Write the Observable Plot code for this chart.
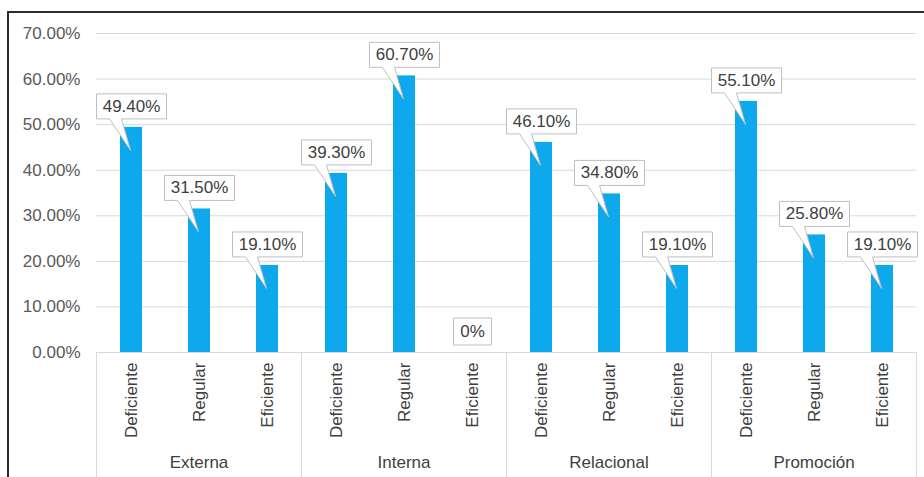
<!DOCTYPE html>
<html>
<head>
<meta charset="utf-8">
<script src="https://cdn.jsdelivr.net/npm/d3@7"></script>
<script src="https://cdn.jsdelivr.net/npm/@observablehq/plot@0.6"></script>
<style>
  html, body { margin: 0; padding: 0; background: #fff; overflow: hidden; }
  #wrap { position: relative; width: 924px; height: 477px; overflow: hidden; background: #fff; }
  #chart { position: absolute; left: 0; top: 0; }
  #border { position: absolute; left: 7px; top: 11px; width: 960px; height: 520px; border: 2px solid #2b2b2b; pointer-events: none; }
</style>
</head>
<body>
<div id="wrap">
  <div id="chart"></div>
  <div id="border"></div>
</div>
<script>
// ---- data ----
const groups = ["Externa", "Interna", "Relacional", "Promoción"];
const levels = ["Deficiente", "Regular", "Eficiente"];
const externa = [49.4, 31.5, 19.1];
const interna = [39.3, 60.7, 0];
const relacional = [46.1, 34.8, 19.1];
const promocion = [55.1, 25.8, 19.1];
const yTicks = [0, 10, 20, 30, 40, 50, 60, 70];

const seriesByGroup = [externa, interna, relacional, promocion];
const data = groups.flatMap((g, i) =>
  levels.map((l, j) => ({group: g, level: l, value: seriesByGroup[i][j]}))
);
const fmtLabel = v => v === 0 ? "0%" : v.toFixed(2) + "%";

// ---- layout ----
const W = 924, H = 477, ML = 96, MR = 8, MT = 33, MB = 125;
const font = "'Liberation Sans', Arial, sans-serif";

function callout(w, h, wedge) {
  return {
    draw(ctx) {
      const x0 = -w / 2, x1 = w / 2, y0 = -h / 2, y1 = h / 2;
      ctx.moveTo(x0, y0);
      ctx.lineTo(x1, y0);
      ctx.lineTo(x1, y1);
      if (wedge) {
        ctx.lineTo(x0 + 25, y1);
        ctx.lineTo(-1, 44);
        ctx.lineTo(x0 + 13, y1);
      }
      ctx.lineTo(x0, y1);
      ctx.closePath();
    }
  };
}

const chart = Plot.plot({
  width: W,
  height: H,
  marginLeft: ML,
  marginRight: MR,
  marginTop: MT,
  marginBottom: MB,
  style: {fontFamily: font, fontSize: "17px", color: "#595959", background: "transparent"},
  fx: {domain: groups, padding: 0},
  x: {domain: levels, paddingInner: 0.68, paddingOuter: 0.34},
  y: {domain: [0, 70]},
  marks: [
    Plot.gridY(yTicks, {stroke: "#d9d9d9", strokeOpacity: 1}),
    Plot.frame({stroke: "#d9d9d9", insetTop: H - MT - MB, insetBottom: -130}),
    Plot.axisY({ticks: yTicks, tickSize: 0, tickPadding: 16, tickFormat: d => d.toFixed(2) + "%", label: null, fill: "#595959", fontSize: 17}),
    Plot.axisX({tickSize: 0, tickPadding: 10, tickRotate: -90, label: null, fill: "#404040", fontSize: 17}),
    Plot.axisFx({anchor: "bottom", tickSize: 0, tickPadding: 103, label: null, fill: "#404040", fontSize: 17}),
    Plot.barY(data, {fx: "group", x: "level", y: "value", fill: "#0DA9EC"}),
    Plot.dot(data, {filter: d => d.value > 0, fx: "group", x: "level", y: "value", dy: -21, r: 5,
      symbol: callout(70, 25, true), fill: "white", stroke: "#bfbfbf", strokeWidth: 1}),
    Plot.dot(data, {filter: d => d.value === 0, fx: "group", x: "level", y: "value", dy: -21, r: 5,
      symbol: callout(38, 27, false), fill: "white", stroke: "#bfbfbf", strokeWidth: 1}),
    Plot.text(data, {fx: "group", x: "level", y: "value", dy: -21, text: d => fmtLabel(d.value),
      fill: "#404040", fontSize: 17})
  ]
});
document.getElementById("chart").appendChild(chart);
</script>
</body>
</html>
